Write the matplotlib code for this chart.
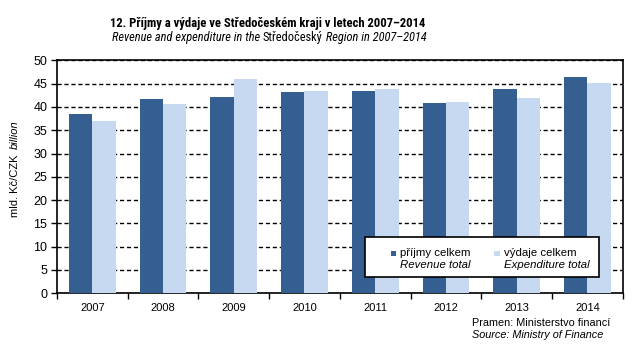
import matplotlib
matplotlib.use('Agg')
import os
import matplotlib.pyplot as plt
from matplotlib import font_manager
from matplotlib.patches import Rectangle
import numpy as np

# data: mld. Kč
years = ['2007', '2008', '2009', '2010', '2011', '2012', '2013', '2014']
revenue = [38.5, 41.7, 42.1, 43.2, 43.4, 40.8, 43.8, 46.4]
expenditure = [37.0, 40.6, 46.0, 43.4, 43.8, 41.0, 41.9, 45.1]

DARK = '#355f91'
LIGHT = '#c6d9f0'
W, H = 643, 350
FONT = 'Liberation Sans'


def pick_narrow():
    # condensed family with static bold and italic faces
    fonts = [f for f in font_manager.fontManager.ttflist
             if '[' not in os.path.basename(f.fname)]
    for fam in ['Liberation Sans Narrow', 'Arial Narrow', 'Roboto Condensed',
                'PT Sans Narrow', 'Archivo Narrow', 'IBM Plex Sans Condensed',
                'Fira Sans Condensed']:
        faces = [f for f in fonts if f.name == fam]
        bold = any(f.weight in (700, 'bold') and f.style == 'normal' for f in faces)
        ital = any(f.style == 'italic' for f in faces)
        if bold and ital:
            return fam
    return FONT


NARROW = pick_narrow()
plt.rcParams['font.family'] = FONT

fig = plt.figure(figsize=(W / 100, H / 100), dpi=100)
ax = fig.add_axes([57 / W, 1 - 293.3 / H, (622.7 - 57) / W, (293.3 - 60.3) / H])

x = np.arange(len(years))
bw = 0.33
ax.bar(x - bw / 2, revenue, bw, color=DARK, zorder=3)
ax.bar(x + bw / 2, expenditure, bw, color=LIGHT, zorder=3)

ax.set_xlim(-0.5, len(years) - 0.5)
ax.set_ylim(0, 50)
ax.set_yticks(np.arange(0, 51, 5))
ax.set_xticks(x)
ax.set_xticklabels(years)
ax.set_xticks(np.arange(-0.5, len(years)), minor=True)
ax.tick_params(axis='x', which='major', length=0, pad=7, labelsize=8)
ax.tick_params(axis='x', which='minor', length=4, width=1, direction='out')
ax.tick_params(axis='y', length=4, width=1, direction='out', labelsize=9, pad=3)
for s in ax.spines.values():
    s.set_linewidth(1.2)
ax.yaxis.grid(True, color='black', linestyle=(0, (3, 2)), linewidth=1, zorder=0)
ax.set_axisbelow(True)

fig.canvas.draw()
renderer = fig.canvas.get_renderer()


def runs(parts, xc, y, size, width, family=FONT, weight='normal'):
    # centred line of text pieces with mixed styles, sized to a given pixel width
    texts = [fig.text(0, 1 - y / H, s, fontsize=size, style=style, family=family,
                      weight=weight, va='center', ha='left') for s, style in parts]
    total = sum(t.get_window_extent(renderer).width for t in texts)
    size = min(size * width / total, size * 1.25)
    for t in texts:
        t.set_fontsize(size)
    widths = [t.get_window_extent(renderer).width for t in texts]
    x0 = xc - sum(widths) / 2
    for t, w in zip(texts, widths):
        t.set_x(x0 / W)
        x0 += w


runs([('12. Příjmy a výdaje ve Středočeském kraji v letech 2007–2014', 'normal')],
     268, 24, 10.5, 315, family=NARROW, weight='bold')
runs([('Revenue and expenditure in the ', 'italic'), ('Středočeský', 'normal'),
      (' Region in 2007–2014', 'italic')], 269, 38, 9.5, 318, family=NARROW)

# y axis label, rotated, mixed styles
fig.text(15 / W, 1 - 184 / H, 'mld. Kč/CZK ', rotation=90, fontsize=8,
         ha='center', va='center')
fig.text(15 / W, 1 - 135 / H, 'billion', rotation=90, fontsize=8, style='italic',
         ha='center', va='center')

# legend box
ax.add_patch(Rectangle((365 / W, 1 - 277 / H), (599 - 365) / W, 40 / H,
                       transform=fig.transFigure, facecolor='white',
                       edgecolor='black', linewidth=1.2, zorder=5, clip_on=False))
for sx, col, l1, l2 in [(390.5, DARK, 'příjmy celkem', 'Revenue total'),
                        (494, LIGHT, 'výdaje celkem', 'Expenditure total')]:
    ax.add_patch(Rectangle((sx / W, 1 - 256 / H), 5.5 / W, 5.5 / H,
                           transform=fig.transFigure, facecolor=col,
                           edgecolor='none', zorder=6, clip_on=False))
    fig.text((sx + 9.5) / W, 1 - 252.5 / H, l1, fontsize=8.2, va='center', zorder=7)
    fig.text((sx + 9.5) / W, 1 - 264.5 / H, l2, fontsize=8.2, style='italic',
             va='center', zorder=7)

fig.text(472 / W, 1 - 323 / H, 'Pramen: Ministerstvo financí', fontsize=7.8, va='center')
fig.text(472 / W, 1 - 334.5 / H, 'Source: Ministry of Finance', fontsize=7.8,
         style='italic', va='center')

fig.savefig('out.png', dpi=100)
